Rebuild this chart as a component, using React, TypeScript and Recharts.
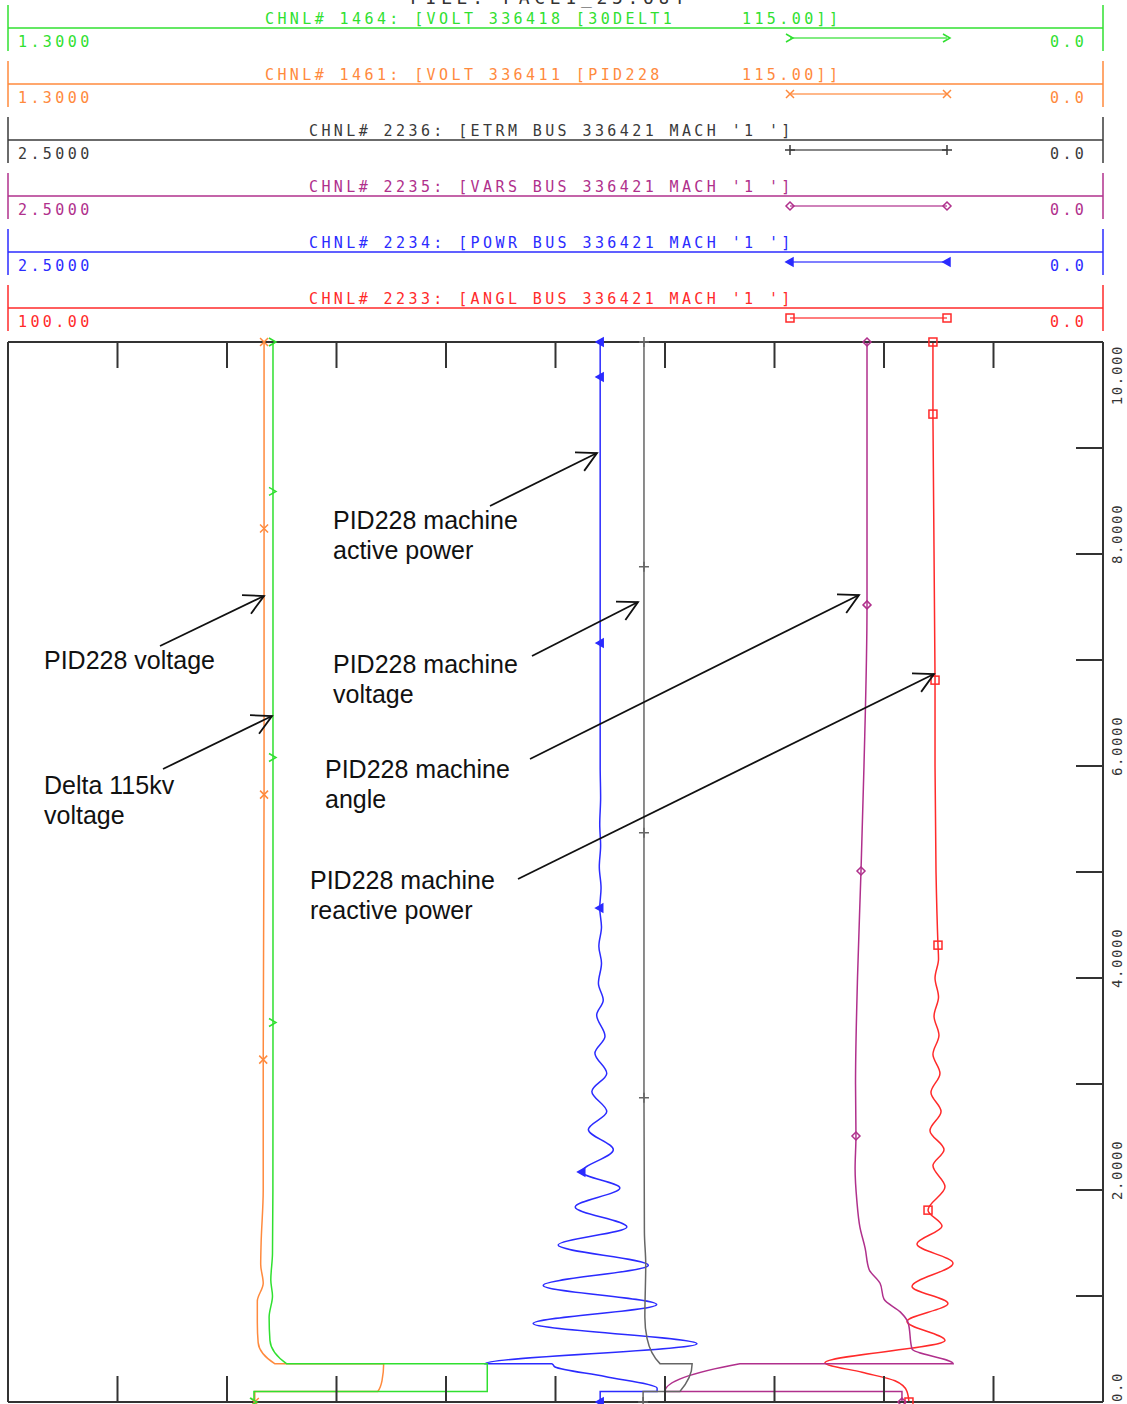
import { LineChart, Line, XAxis, YAxis } from "recharts";

// simulation time in seconds, runs up the page
const timeTicks = [0, 1, 2, 3, 4, 5, 6, 7, 8, 9, 10];
const timeLabels: Record<number, string> = { 0: "0.0", 2: "2.0000", 4: "4.0000", 6: "6.0000", 8: "8.0000", 10: "10.000" };
const valueDivisions = [1, 2, 3, 4, 5, 6, 7, 8, 9];

const fileTitle = "FILE: PACE1_25.OUT";

const channelNames = [
  "CHNL# 1464: [VOLT 336418 [30DELT1",
  "CHNL# 1461: [VOLT 336411 [PID228",
  "CHNL# 2236: [ETRM BUS 336421 MACH '1 ']",
  "CHNL# 2235: [VARS BUS 336421 MACH '1 ']",
  "CHNL# 2234: [POWR BUS 336421 MACH '1 ']",
  "CHNL# 2233: [ANGL BUS 336421 MACH '1 ']",
];
const channelBaseKv = ["115.00]]", "115.00]]", "", "", "", ""];
const channelMaxLabel = ["1.3000", "1.3000", "2.5000", "2.5000", "2.5000", "100.00"];
const channelMinLabel = ["0.0", "0.0", "0.0", "0.0", "0.0", "0.0"];

// m = plot marker on that sample
const delta115Volt = [
  { t: 0, v: 1.008, m: 1 }, { t: 0.1, v: 1.008 }, { t: 0.1, v: 0.731 }, { t: 0.36, v: 0.731 },
  { t: 0.36, v: 0.969 }, { t: 0.58, v: 0.989 }, { t: 0.8, v: 0.99 }, { t: 1.0, v: 0.986 },
  { t: 1.15, v: 0.988 }, { t: 1.4, v: 0.986 }, { t: 2.0, v: 0.9855 }, { t: 3.58, v: 0.9854, m: 1 },
  { t: 6.08, v: 0.9854, m: 1 }, { t: 8.59, v: 0.9854, m: 1 }, { t: 10, v: 0.9854, m: 1 },
];

const pid228Volt = [
  { t: 0, v: 1.007, m: 1 }, { t: 0.1, v: 1.007 }, { t: 0.1, v: 0.861 }, { t: 0.2, v: 0.856 },
  { t: 0.36, v: 0.854 }, { t: 0.36, v: 0.983 }, { t: 0.56, v: 1.003 }, { t: 0.75, v: 1.004 },
  { t: 0.95, v: 1.004 }, { t: 1.12, v: 0.997 }, { t: 1.3, v: 1.0 }, { t: 1.5, v: 0.9995 },
  { t: 2.0, v: 0.997 }, { t: 3.23, v: 0.997, m: 1 }, { t: 5.73, v: 0.996, m: 1 },
  { t: 8.24, v: 0.996, m: 1 }, { t: 10, v: 0.996, m: 1 },
];

const machEtrm = [
  { t: 0, v: 1.05, m: 1 }, { t: 0.1, v: 1.05 }, { t: 0.1, v: 0.966 }, { t: 0.36, v: 0.938 },
  { t: 0.36, v: 1.011 }, { t: 0.6, v: 1.041 }, { t: 0.8, v: 1.046 }, { t: 1.3, v: 1.044 },
  { t: 1.6, v: 1.047 }, { t: 2.87, v: 1.048, m: 1 }, { t: 5.37, v: 1.048, m: 1 },
  { t: 7.88, v: 1.048, m: 1 }, { t: 10, v: 1.048, m: 1 },
];

const machVars = [
  { t: 0, v: 0.459, m: 1 }, { t: 0.1, v: 0.459 }, { t: 0.1, v: 1.0 }, { t: 0.36, v: 0.829 },
  { t: 0.36, v: 0.342 }, { t: 0.5, v: 0.436 }, { t: 0.75, v: 0.445 }, { t: 0.85, v: 0.463 },
  { t: 0.97, v: 0.5 }, { t: 1.12, v: 0.509 }, { t: 1.25, v: 0.534 }, { t: 1.45, v: 0.543 },
  { t: 1.65, v: 0.555 }, { t: 1.9, v: 0.562 }, { t: 2.2, v: 0.566 }, { t: 2.51, v: 0.564, m: 1 },
  { t: 3.0, v: 0.565 }, { t: 4.0, v: 0.5605 }, { t: 5.01, v: 0.5525, m: 1 }, { t: 6.0, v: 0.5457 },
  { t: 7.52, v: 0.5388, m: 1 }, { t: 10, v: 0.5388, m: 1 },
];

const machPowr = [
  { t: 0, v: 1.148, m: 1 }, { t: 0.1, v: 1.148 }, { t: 0.1, v: 1.018 }, { t: 0.13, v: 1.018 },
  { t: 0.24, v: 1.137 }, { t: 0.33, v: 1.251 }, { t: 0.36, v: 1.258 }, { t: 0.36, v: 1.411 },
  { t: 0.55, v: 0.927 }, { t: 0.74, v: 1.301 }, { t: 0.92, v: 1.019 }, { t: 1.1, v: 1.278 },
  { t: 1.29, v: 1.038 }, { t: 1.48, v: 1.244 }, { t: 1.65, v: 1.087 }, { t: 1.84, v: 1.205 },
  { t: 2.02, v: 1.103 }, { t: 2.17, v: 1.19, m: 1 }, { t: 2.38, v: 1.118 }, { t: 2.57, v: 1.175 },
  { t: 2.74, v: 1.133 }, { t: 2.93, v: 1.167 }, { t: 3.1, v: 1.133 }, { t: 3.29, v: 1.16 },
  { t: 3.45, v: 1.137 }, { t: 3.65, v: 1.156 }, { t: 3.79, v: 1.141 }, { t: 3.95, v: 1.152 },
  { t: 4.14, v: 1.145 }, { t: 4.3, v: 1.151 }, { t: 4.48, v: 1.145 }, { t: 4.66, v: 1.149, m: 1 },
  { t: 4.85, v: 1.146 }, { t: 5.05, v: 1.15 }, { t: 5.25, v: 1.147 }, { t: 5.45, v: 1.149 },
  { t: 5.7, v: 1.147 }, { t: 6.0, v: 1.148 }, { t: 7.16, v: 1.148, m: 1 },
  { t: 9.67, v: 1.148, m: 1 }, { t: 10, v: 1.148, m: 1 },
];

const machAngl = [
  { t: 0, v: 17.72, m: 1 }, { t: 0.1, v: 17.9 }, { t: 0.2, v: 19.0 }, { t: 0.28, v: 22.0 },
  { t: 0.37, v: 25.39 }, { t: 0.58, v: 14.43 }, { t: 0.76, v: 17.9 }, { t: 0.93, v: 14.16 },
  { t: 1.09, v: 17.44 }, { t: 1.31, v: 13.7 }, { t: 1.49, v: 16.99 }, { t: 1.66, v: 14.7 },
  { t: 1.81, v: 15.98, m: 1 }, { t: 2.03, v: 14.43 }, { t: 2.23, v: 15.53 }, { t: 2.38, v: 14.52 },
  { t: 2.56, v: 15.8 }, { t: 2.74, v: 14.79 }, { t: 2.92, v: 15.71 }, { t: 3.1, v: 14.89 },
  { t: 3.28, v: 15.53 }, { t: 3.46, v: 14.98 }, { t: 3.64, v: 15.43 }, { t: 3.82, v: 15.02 },
  { t: 4.0, v: 15.34 }, { t: 4.18, v: 15.02 }, { t: 4.31, v: 15.07, m: 1 }, { t: 5.0, v: 15.25 },
  { t: 6.0, v: 15.34 }, { t: 6.81, v: 15.34, m: 1 }, { t: 9.32, v: 15.53, m: 1 },
  { t: 10, v: 15.53, m: 1 },
];

const seriesData = [delta115Volt, pid228Volt, machEtrm, machVars, machPowr, machAngl];

// styling per channel
const COLORS = ["#30e030", "#ff8a3d", "#3a3a3a", "#b0308c", "#2b2bff", "#ff2a2a"];
const LINE_COLORS = ["#30e030", "#ff8a3d", "#666666", "#b0308c", "#2b2bff", "#ff2a2a"];
const SHAPES = ["chevron", "cross", "plus", "diamond", "triangle", "square"];
const AXIS_IDS = ["volt", "volt", "pw", "pw", "pw", "ang"];
const DRAW_ORDER = [5, 4, 3, 2, 1, 0];

const FRAME = "#333";
const MONO = "'DejaVu Sans Mono', monospace";
const SANS = "'Liberation Sans', Arial, sans-serif";

const notes = [
  { lines: ["PID228 machine", "active power"], x: 333, y: 520, from: [490, 506], to: [597, 453] },
  { lines: ["PID228 voltage"], x: 44, y: 660, from: [160, 646], to: [264, 596] },
  { lines: ["PID228 machine", "voltage"], x: 333, y: 664, from: [532, 656], to: [638, 602] },
  { lines: ["Delta 115kv", "voltage"], x: 44, y: 785, from: [163, 769], to: [272, 716] },
  { lines: ["PID228 machine", "angle"], x: 325, y: 769, from: [530, 759], to: [859, 595] },
  { lines: ["PID228 machine", "reactive power"], x: 310, y: 880, from: [518, 879], to: [934, 674] },
];

function Marker({ shape, x, y, color }: { shape: string; x: number; y: number; color: string }) {
  const s = { stroke: color, strokeWidth: 1.5, fill: "none" };
  switch (shape) {
    case "chevron":
      return <path d={`M${x - 4},${y - 4}L${x + 3},${y}L${x - 4},${y + 4}`} {...s} />;
    case "cross":
      return <path d={`M${x - 4},${y - 4}L${x + 4},${y + 4}M${x - 4},${y + 4}L${x + 4},${y - 4}`} {...s} />;
    case "plus":
      return <path d={`M${x - 5},${y}L${x + 5},${y}M${x},${y - 5}L${x},${y + 5}`} {...s} />;
    case "diamond":
      return <path d={`M${x},${y - 4}L${x + 4},${y}L${x},${y + 4}L${x - 4},${y}Z`} {...s} />;
    case "triangle":
      return <path d={`M${x - 4},${y}L${x + 3},${y - 4}L${x + 3},${y + 4}Z`} {...s} fill={color} />;
    default:
      return <rect x={x - 4} y={y - 4} width={8} height={8} {...s} />;
  }
}

const makeDot = (shape: string, color: string) => (props: any) => {
  const { cx, cy, payload, index } = props;
  if (!payload || !payload.m || cx == null || cy == null) return <g key={`d${index}`} />;
  return (
    <g key={`d${index}`}>
      <Marker shape={shape} x={cx} y={cy} color={color} />
    </g>
  );
};

const RightTick = (props: any) => {
  const { x, y, payload } = props;
  const v = payload.value;
  const label = timeLabels[v];
  const bx = x + 19;
  let ty = y + 10;
  let anchor: "start" | "end" = "start";
  if (v === 10) {
    ty = y + 3;
    anchor = "end";
  } else if (v === 0) {
    ty = y;
  }
  return (
    <g>
      {v > 0 && v < 10 && <line x1={x - 27} x2={x} y1={y} y2={y} stroke={FRAME} strokeWidth={2} />}
      {label && (
        <text x={bx} y={ty} transform={`rotate(-90 ${bx} ${ty})`} textAnchor={anchor}
          fontFamily={MONO} fontSize={14} letterSpacing={1.6} fill="#333">
          {label}
        </text>
      )}
    </g>
  );
};

const LeftTick = (props: any) => {
  const { x, y, payload } = props;
  const v = payload.value;
  if (v <= 0 || v >= 10) return <g />;
  return <line x1={x} x2={x + 27} y1={y} y2={y} stroke={FRAME} strokeWidth={2} />;
};

const TopTick = (props: any) => {
  const { x, y } = props;
  return <line x1={x} x2={x} y1={y} y2={y + 26} stroke={FRAME} strokeWidth={2} />;
};

const BottomTick = (props: any) => {
  const { x, y } = props;
  return <line x1={x} x2={x} y1={y - 26} y2={y} stroke={FRAME} strokeWidth={2} />;
};

function Arrow({ from, to }: { from: number[]; to: number[] }) {
  const [x1, y1] = from;
  const [x2, y2] = to;
  const th = Math.atan2(y2 - y1, x2 - x1);
  const a = (28 * Math.PI) / 180;
  const L = 22;
  const p1 = [x2 - L * Math.cos(th - a), y2 - L * Math.sin(th - a)];
  const p2 = [x2 - L * Math.cos(th + a), y2 - L * Math.sin(th + a)];
  return (
    <g stroke="#111" strokeWidth={1.8} fill="none">
      <line x1={x1} y1={y1} x2={x2} y2={y2} />
      <path d={`M${p1[0]},${p1[1]}L${x2},${y2}L${p2[0]},${p2[1]}`} />
    </g>
  );
}

function Header() {
  return (
    <g>
      <text x={410} y={4} fontFamily={MONO} fontSize={18} letterSpacing={4.7} fill="#333">
        {fileTitle}
      </text>
      {channelNames.map((name, i) => {
        const oy = 56 * i;
        const c = COLORS[i];
        const nameX = channelBaseKv[i] ? 265 : 309;
        return (
          <g key={name}>
            <line x1={8} x2={1103} y1={28 + oy} y2={28 + oy} stroke={c} strokeWidth={1.5} />
            <line x1={8} x2={8} y1={5 + oy} y2={51 + oy} stroke={c} strokeWidth={1.5} />
            <line x1={1103} x2={1103} y1={5 + oy} y2={51 + oy} stroke={c} strokeWidth={1.5} />
            <text x={nameX} y={23.5 + oy} fontFamily={MONO} fontSize={15} letterSpacing={3.4} fill={c}>
              {name}
            </text>
            {channelBaseKv[i] && (
              <text x={742} y={23.5 + oy} fontFamily={MONO} fontSize={15} letterSpacing={3.4} fill={c}>
                {channelBaseKv[i]}
              </text>
            )}
            <text x={18} y={46.5 + oy} fontFamily={MONO} fontSize={15} letterSpacing={3.4} fill={c}>
              {channelMaxLabel[i]}
            </text>
            <text x={1050} y={46.5 + oy} fontFamily={MONO} fontSize={15} letterSpacing={3.4} fill={c}>
              {channelMinLabel[i]}
            </text>
            <line x1={790} x2={947} y1={38 + oy} y2={38 + oy} stroke={c} strokeWidth={1.5} opacity={0.8} />
            <Marker shape={SHAPES[i]} x={790} y={38 + oy} color={c} />
            <Marker shape={SHAPES[i]} x={947} y={38 + oy} color={c} />
          </g>
        );
      })}
    </g>
  );
}

function Notes() {
  return (
    <g>
      {notes.map((n, i) => (
        <g key={i}>
          {n.lines.map((ln, j) => (
            <text key={j} x={n.x} y={n.y + 9 + 30 * j} fontFamily={SANS} fontSize={25} fill="#111">
              {ln}
            </text>
          ))}
          <Arrow from={n.from} to={n.to} />
        </g>
      ))}
    </g>
  );
}

export default function App() {
  return (
    <div style={{ position: "absolute", left: 0, top: 0, width: 1127, height: 1404, background: "#fff" }}>
      <LineChart width={1127} height={1404} layout="vertical" margin={{ top: 341, right: 23, bottom: 1, left: 7 }}>
        <XAxis xAxisId="bottom" orientation="bottom" type="number" domain={[0, 10]} ticks={valueDivisions}
          allowDataOverflow height={1} interval={0} tickSize={0} tickMargin={0} tickLine={false}
          axisLine={{ stroke: FRAME, strokeWidth: 2 }} tick={(p: any) => <BottomTick {...p} />} />
        <XAxis xAxisId="top" orientation="top" type="number" domain={[0, 10]} ticks={valueDivisions}
          allowDataOverflow height={1} interval={0} tickSize={0} tickMargin={0} tickLine={false}
          axisLine={{ stroke: FRAME, strokeWidth: 2 }} tick={(p: any) => <TopTick {...p} />} />
        <XAxis xAxisId="volt" type="number" domain={[0, 1.3]} tickCount={14} reversed hide height={0} />
        <XAxis xAxisId="pw" type="number" domain={[0, 2.5]} tickCount={6} reversed hide height={0} />
        <XAxis xAxisId="ang" type="number" domain={[0, 100]} tickCount={5} reversed hide height={0} />
        <YAxis yAxisId="t" orientation="right" type="number" dataKey="t" domain={[0, 10]} tickCount={11}
          reversed ticks={timeTicks} width={1} interval={0} tickSize={0} tickMargin={0} tickLine={false}
          axisLine={{ stroke: FRAME, strokeWidth: 2 }} tick={(p: any) => <RightTick {...p} />} />
        <YAxis yAxisId="tl" orientation="left" type="number" domain={[0, 10]} ticks={timeTicks}
          reversed allowDataOverflow width={1} interval={0} tickSize={0} tickMargin={0} tickLine={false}
          axisLine={{ stroke: FRAME, strokeWidth: 2 }} tick={(p: any) => <LeftTick {...p} />} />
        {DRAW_ORDER.map((i) => (
          <Line key={i} data={seriesData[i]} dataKey="v" xAxisId={AXIS_IDS[i]} yAxisId="t"
            type="monotone" stroke={LINE_COLORS[i]} strokeWidth={1.5} isAnimationActive={false}
            dot={makeDot(SHAPES[i], LINE_COLORS[i])} activeDot={false} />
        ))}
      </LineChart>
      <svg width={1127} height={1404} style={{ position: "absolute", left: 0, top: 0, pointerEvents: "none" }}>
        <Header />
        <Notes />
      </svg>
    </div>
  );
}
